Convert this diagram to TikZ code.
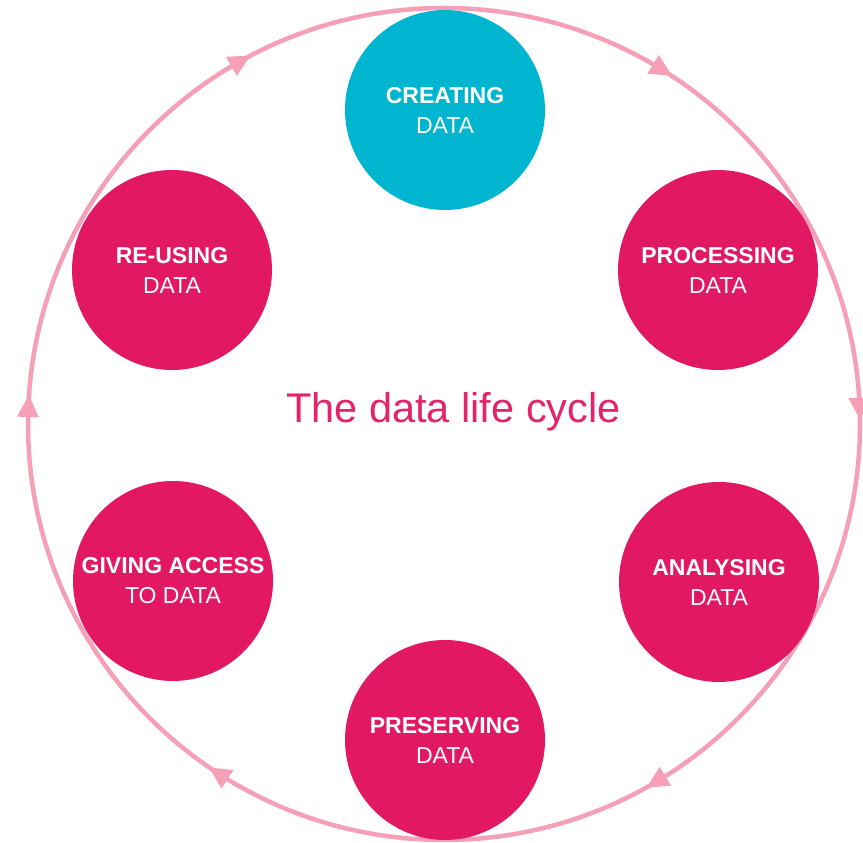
\documentclass[tikz,border=0pt]{standalone}
\usepackage{fontspec}
\setmainfont{Liberation Sans}
\definecolor{ringpink}{RGB}{246,160,184}
\definecolor{magentac}{RGB}{226,25,98}
\definecolor{cyanc}{RGB}{0,181,207}
\definecolor{titlec}{RGB}{229,35,106}
\tikzset{
  ringline/.style={draw=ringpink, line width=4.5pt},
  ringarrow/.style={fill=ringpink},
  bubble/.style={circle, minimum size=200pt, inner sep=0pt, fill=magentac, text=white, align=center, font=\fontsize{23}{30}\selectfont},
  titletext/.style={text=titlec, font=\fontsize{41.5}{48}\selectfont, anchor=base}
}
\begin{document}
\begin{tikzpicture}[x=1pt,y=1pt]
\useasboundingbox (0,0) rectangle (863,843);
\coordinate (c) at (444,419);
\draw[ringline] (c) circle[radius=416];
\foreach \a in {119.5,58.6,2.4,-59.1,-122.6,177.8}{
  \fill[ringarrow, shift={(c)}, rotate=\a] (405,9) -- (427,9) -- (416,-13) -- cycle;
}
\node[bubble, fill=cyanc] (create) at (445,733) {\textbf{CREATING}\\DATA};
\node[bubble] (process) at (718,573) {\textbf{PROCESSING}\\DATA};
\node[bubble] (analyse) at (719,261) {\textbf{ANALYSING}\\DATA};
\node[bubble] (preserve) at (445,103) {\textbf{PRESERVING}\\DATA};
\node[bubble] (giving) at (173,262) {\textbf{GIVING ACCESS}\\TO DATA};
\node[bubble] (reuse) at (172,573) {\textbf{RE-USING}\\DATA};
\node[titletext] (title) at (453.5,420) {The data life cycle};
\end{tikzpicture}
\end{document}
